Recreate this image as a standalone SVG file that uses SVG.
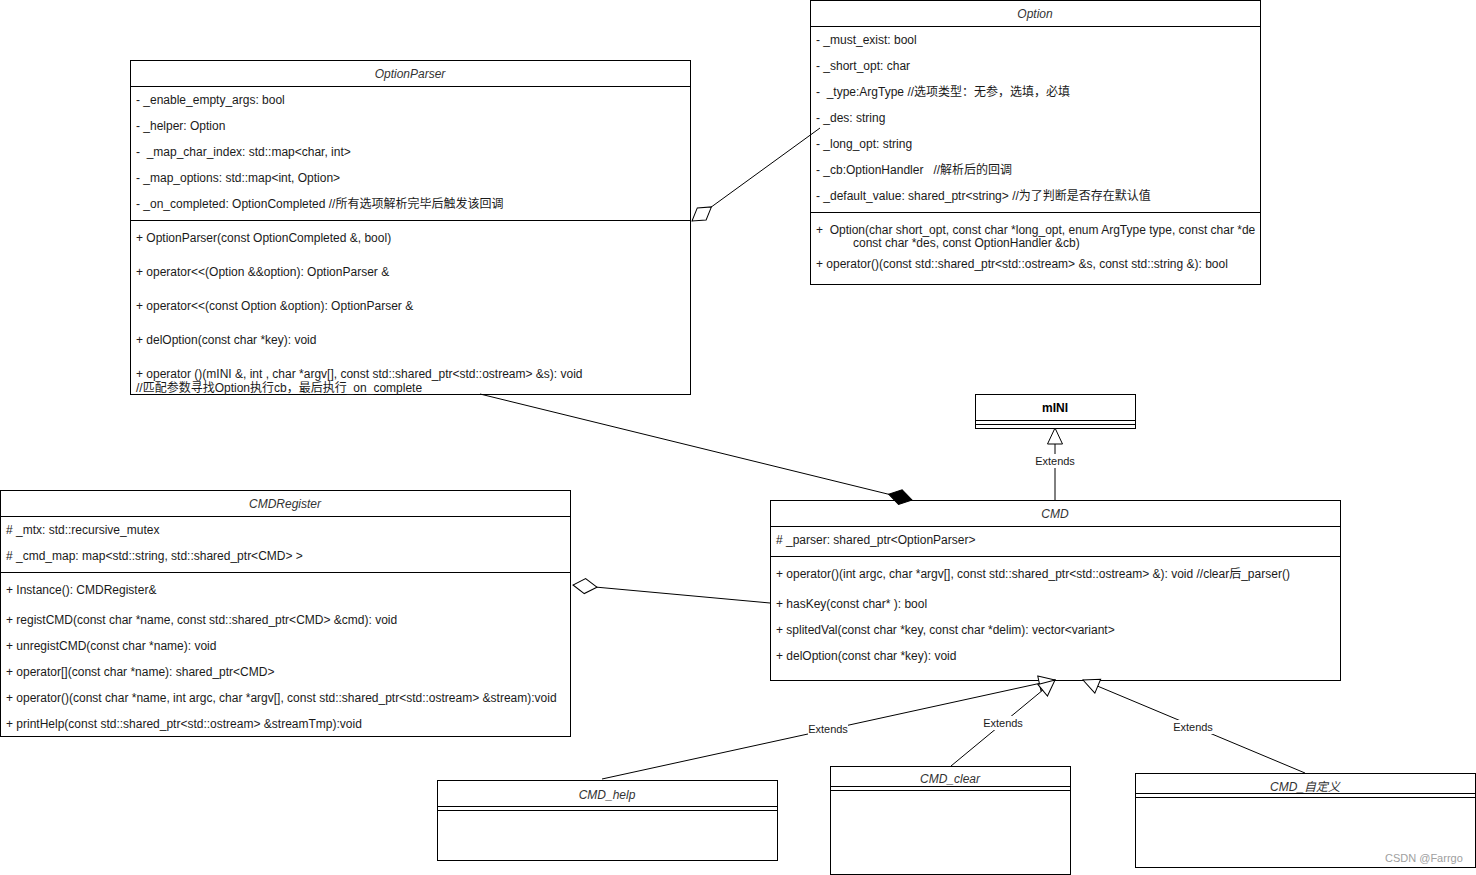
<svg xmlns="http://www.w3.org/2000/svg" width="1476" height="875" viewBox="0 0 1476 875">
<style>
.box{fill:#fff;stroke:#000;stroke-width:1}
.sep{stroke:#000;stroke-width:1;fill:none}
.t{font-family:"Liberation Sans",Arial,"Noto Sans CJK SC",sans-serif;font-size:12px;fill:#1a1a1a;white-space:pre}
.ti{font-family:"Liberation Sans",Arial,"Noto Sans CJK SC",sans-serif;font-size:12px;fill:#333;font-style:italic;text-anchor:middle;white-space:pre}
.tb{font-family:"Liberation Sans",Arial,sans-serif;font-size:12px;fill:#000;font-weight:bold;text-anchor:middle}
.lbl{font-family:"Liberation Sans",Arial,sans-serif;font-size:11px;fill:#1a1a1a;text-anchor:middle}
.conn{stroke:#000;stroke-width:1;fill:none}
.wm{font-family:"Liberation Sans",Arial,sans-serif;font-size:11px;fill:#a0a0a0}
</style>
<defs>
<marker id="odiamond" markerUnits="userSpaceOnUse" markerWidth="26" markerHeight="18" viewBox="0 0 26 18" refX="25" refY="9" orient="auto">
<path d="M1,9 L13,1.5 L25,9 L13,16.5 z" fill="#fff" stroke="#000" stroke-width="1"/>
</marker>
<marker id="fdiamond" markerUnits="userSpaceOnUse" markerWidth="26" markerHeight="18" viewBox="0 0 26 18" refX="25" refY="9" orient="auto">
<path d="M1,9 L13,1.5 L25,9 L13,16.5 z" fill="#000" stroke="#000" stroke-width="1"/>
</marker>
<marker id="tri" markerUnits="userSpaceOnUse" markerWidth="18" markerHeight="18" viewBox="0 0 18 18" refX="17" refY="9" orient="auto">
<path d="M1,1.5 L17,9 L1,16.5 z" fill="#fff" stroke="#000" stroke-width="1"/>
</marker>
</defs>

<g id="Option">
<rect class="box" x="810.5" y="0.5" width="450" height="284"/>
<line class="sep" x1="810.5" y1="26.5" x2="1260.5" y2="26.5"/>
<line class="sep" x1="810.5" y1="212.5" x2="1260.5" y2="212.5"/>
<text class="ti" x="1035" y="18">Option</text>
<text class="t" x="816" y="44">- _must_exist: bool</text>
<text class="t" x="816" y="70">- _short_opt: char</text>
<text class="t" x="816" y="96">-  _type:ArgType //选项类型：无参，选填，必填</text>
<text class="t" x="816" y="122">- _des: string</text>
<text class="t" x="816" y="148">- _long_opt: string</text>
<text class="t" x="816" y="174">- _cb:OptionHandler   //解析后的回调</text>
<text class="t" x="816" y="200">- _default_value: shared_ptr&lt;string&gt; //为了判断是否存在默认值</text>
<text class="t" x="816" y="234">+  Option(char short_opt, const char *long_opt, enum ArgType type, const char *de</text>
<text class="t" x="853" y="247">const char *des, const OptionHandler &amp;cb)</text>
<text class="t" x="816" y="268">+ operator()(const std::shared_ptr&lt;std::ostream&gt; &amp;s, const std::string &amp;): bool</text>
</g>

<g id="OptionParser">
<rect class="box" x="130.5" y="60.5" width="560" height="334"/>
<line class="sep" x1="130.5" y1="86.5" x2="690.5" y2="86.5"/>
<line class="sep" x1="130.5" y1="220.5" x2="690.5" y2="220.5"/>
<text class="ti" x="410" y="78">OptionParser</text>
<text class="t" x="136" y="104">- _enable_empty_args: bool</text>
<text class="t" x="136" y="130">- _helper: Option</text>
<text class="t" x="136" y="156">-  _map_char_index: std::map&lt;char, int&gt;</text>
<text class="t" x="136" y="182">- _map_options: std::map&lt;int, Option&gt;</text>
<text class="t" x="136" y="208">- _on_completed: OptionCompleted //所有选项解析完毕后触发该回调</text>
<text class="t" x="136" y="242">+ OptionParser(const OptionCompleted &amp;, bool)</text>
<text class="t" x="136" y="276">+ operator&lt;&lt;(Option &amp;&amp;option): OptionParser &amp;</text>
<text class="t" x="136" y="310">+ operator&lt;&lt;(const Option &amp;option): OptionParser &amp;</text>
<text class="t" x="136" y="344">+ delOption(const char *key): void</text>
<text class="t" x="136" y="378">+ operator ()(mINI &amp;, int , char *argv[], const std::shared_ptr&lt;std::ostream&gt; &amp;s): void</text>
<text class="t" x="136" y="392">//匹配参数寻找Option执行cb，最后执行_on_complete</text>
</g>

<g id="mINI">
<rect class="box" x="975.5" y="394.5" width="160" height="34"/>
<line class="sep" x1="975.5" y1="420.5" x2="1135.5" y2="420.5"/>
<line class="sep" x1="975.5" y1="424.5" x2="1135.5" y2="424.5"/>
<text class="tb" x="1055" y="412">mINI</text>
</g>

<g id="CMDRegister">
<rect class="box" x="0.5" y="490.5" width="570" height="246"/>
<line class="sep" x1="0.5" y1="516.5" x2="570.5" y2="516.5"/>
<line class="sep" x1="0.5" y1="572.5" x2="570.5" y2="572.5"/>
<text class="ti" x="285" y="508">CMDRegister</text>
<text class="t" x="6" y="534"># _mtx: std::recursive_mutex</text>
<text class="t" x="6" y="560"># _cmd_map: map&lt;std::string, std::shared_ptr&lt;CMD&gt; &gt;</text>
<text class="t" x="6" y="594">+ Instance(): CMDRegister&amp;</text>
<text class="t" x="6" y="624">+ registCMD(const char *name, const std::shared_ptr&lt;CMD&gt; &amp;cmd): void</text>
<text class="t" x="6" y="650">+ unregistCMD(const char *name): void</text>
<text class="t" x="6" y="676">+ operator[](const char *name): shared_ptr&lt;CMD&gt;</text>
<text class="t" x="6" y="702">+ operator()(const char *name, int argc, char *argv[], const std::shared_ptr&lt;std::ostream&gt; &amp;stream):void</text>
<text class="t" x="6" y="728">+ printHelp(const std::shared_ptr&lt;std::ostream&gt; &amp;streamTmp):void</text>
</g>

<g id="CMD">
<rect class="box" x="770.5" y="500.5" width="570" height="180"/>
<line class="sep" x1="770.5" y1="526.5" x2="1340.5" y2="526.5"/>
<line class="sep" x1="770.5" y1="556.5" x2="1340.5" y2="556.5"/>
<text class="ti" x="1055" y="518">CMD</text>
<text class="t" x="776" y="544"># _parser: shared_ptr&lt;OptionParser&gt;</text>
<text class="t" x="776" y="578">+ operator()(int argc, char *argv[], const std::shared_ptr&lt;std::ostream&gt; &amp;): void //clear后_parser()</text>
<text class="t" x="776" y="608">+ hasKey(const char* ): bool</text>
<text class="t" x="776" y="634">+ splitedVal(const char *key, const char *delim): vector&lt;variant&gt;</text>
<text class="t" x="776" y="660">+ delOption(const char *key): void</text>
</g>

<g id="CMD_help">
<rect class="box" x="437.5" y="780.5" width="340" height="80"/>
<line class="sep" x1="437.5" y1="806.5" x2="777.5" y2="806.5"/>
<line class="sep" x1="437.5" y1="810.5" x2="777.5" y2="810.5"/>
<text class="ti" x="607" y="799">CMD_help</text>
</g>

<g id="CMD_clear">
<rect class="box" x="830.5" y="766.5" width="240" height="108"/>
<line class="sep" x1="830.5" y1="786.5" x2="1070.5" y2="786.5"/>
<line class="sep" x1="830.5" y1="790.5" x2="1070.5" y2="790.5"/>
<text class="ti" x="950" y="783">CMD_clear</text>
</g>

<g id="CMD_custom">
<rect class="box" x="1135.5" y="773.5" width="340" height="94"/>
<line class="sep" x1="1135.5" y1="793.5" x2="1475.5" y2="793.5"/>
<line class="sep" x1="1135.5" y1="797.5" x2="1475.5" y2="797.5"/>
<text class="ti" x="1305" y="791">CMD_自定义</text>
</g>

<g id="connectors">
<line class="conn" x1="820" y1="128" x2="692" y2="221" marker-end="url(#odiamond)"/>
<line class="conn" x1="480" y1="394" x2="912" y2="500" marker-end="url(#fdiamond)"/>
<line class="conn" x1="770" y1="603" x2="573" y2="585" marker-end="url(#odiamond)"/>
<line class="conn" x1="1055" y1="500" x2="1055" y2="428" marker-end="url(#tri)"/>
<line class="conn" x1="602" y1="779" x2="1055" y2="680" marker-end="url(#tri)"/>
<line class="conn" x1="951" y1="766" x2="1055" y2="680" marker-end="url(#tri)"/>
<line class="conn" x1="1305" y1="773" x2="1083" y2="680" marker-end="url(#tri)"/>
<rect x="1035" y="454" width="40" height="14" fill="#fff"/>
<text class="lbl" x="1055" y="465">Extends</text>
<rect x="808" y="722" width="40" height="14" fill="#fff"/>
<text class="lbl" x="828" y="733">Extends</text>
<rect x="983" y="716" width="40" height="14" fill="#fff"/>
<text class="lbl" x="1003" y="727">Extends</text>
<rect x="1173" y="720" width="40" height="14" fill="#fff"/>
<text class="lbl" x="1193" y="731">Extends</text>
</g>

<text class="wm" x="1385" y="862">CSDN @Farrgo</text>
</svg>
